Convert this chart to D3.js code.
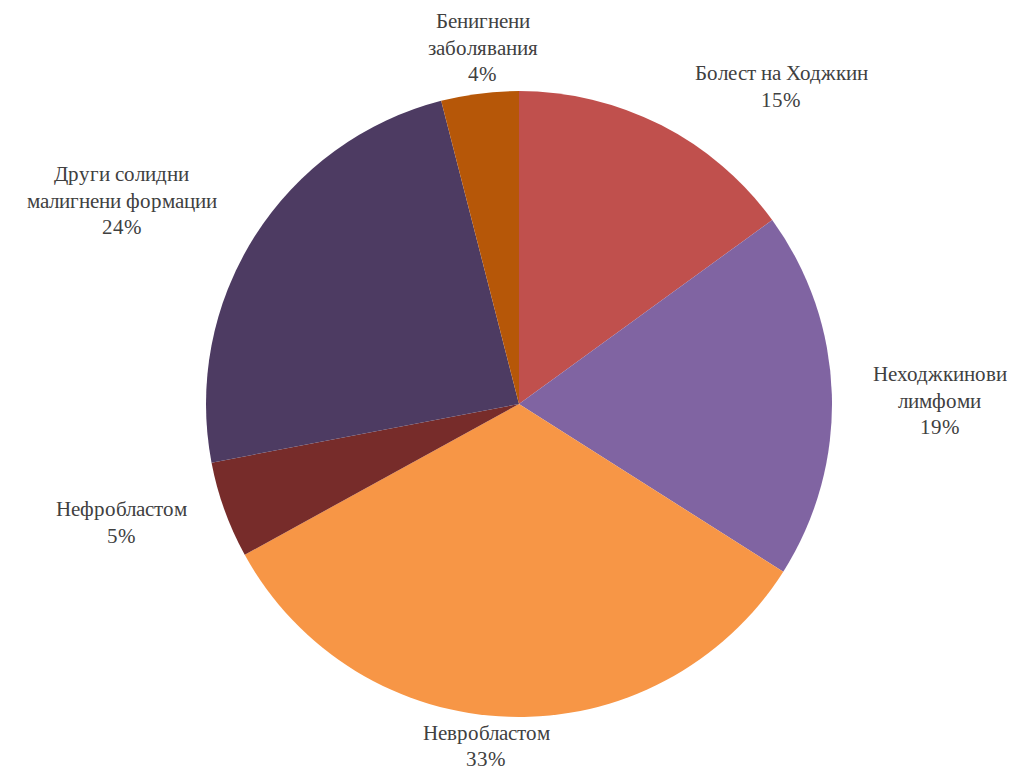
<!DOCTYPE html>
<html>
<head>
<meta charset="utf-8">
<script src="https://cdn.jsdelivr.net/npm/d3@7"></script>
<style>
  @font-face {
    font-family: "LabelSerif";
    src: local("Liberation Serif"), local("LiberationSerif"), local("LiberationSerif-Regular"), local("Tinos"), local("Times New Roman");
  }
  html, body { margin: 0; padding: 0; background: #ffffff; }
  svg { display: block; }
</style>
</head>
<body>
<svg id="chart" width="1028" height="769"></svg>
<script>
// Distribution of diagnoses (percent)
const categories = [
  ["Болест на Ходжкин"],
  ["Неходжкинови", "лимфоми"],
  ["Невробластом"],
  ["Нефробластом"],
  ["Други солидни", "малигнени формации"],
  ["Бенигнени", "заболявания"]
];
const values = [15, 19, 33, 5, 24, 4];
const colors = ["#C0504D", "#8064A2", "#F79646", "#772C2A", "#4D3B62", "#B65708"];

// Label block offsets from the slice's mid-point on the rim
const labelOffsets = [[120, -39], [108, 6], [-23, 29], [-103, 12], [-133, -36], [3, -46]];

const cx = 519, cy = 404, radius = 313;
const fontSize = 21;
const lineHeight = 26.5;

const svg = d3.select("#chart");
const g = svg.append("g").attr("transform", `translate(${cx},${cy})`);

const data = values.map((v, i) => ({ lines: categories[i], value: v, color: colors[i], off: labelOffsets[i] }));
const total = d3.sum(values);

const pie = d3.pie().value(d => d.value).sort(null);
const arc = d3.arc().innerRadius(0).outerRadius(radius);
const arcs = pie(data);

g.selectAll("path")
  .data(arcs)
  .join("path")
  .attr("d", arc)
  .attr("fill", d => d.data.color);

// One text element per label line, positioned in page coordinates
const labelLines = [];
arcs.forEach(d => {
  const mid = (d.startAngle + d.endAngle) / 2;
  const px = cx + Math.sin(mid) * radius + d.data.off[0];
  const py = cy - Math.cos(mid) * radius + d.data.off[1];
  const lines = d.data.lines.concat([d3.format(".0%")(d.data.value / total)]);
  const n = lines.length;
  lines.forEach((ln, k) => labelLines.push({
    text: ln,
    x: px,
    y: py + (k - (n - 1) / 2) * lineHeight + fontSize * 0.35
  }));
});

svg.selectAll("text")
  .data(labelLines)
  .join("text")
  .attr("x", d => d.x)
  .attr("y", d => d.y)
  .style("font-family", '"LabelSerif", "Liberation Serif", "Times New Roman", serif')
  .attr("font-size", fontSize)
  .attr("text-anchor", "middle")
  .attr("fill", "#404040")
  .text(d => d.text);
</script>
</body>
</html>
